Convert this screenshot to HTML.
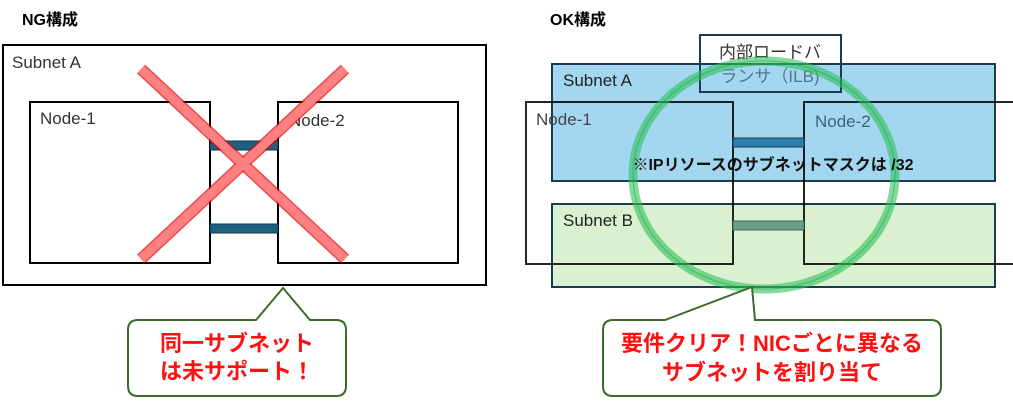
<!DOCTYPE html>
<html><head><meta charset="utf-8"><style>
html,body{margin:0;padding:0;background:#fff;}
svg{display:block;}
text{font-family:"Liberation Sans","Noto Sans CJK JP",sans-serif;}
</style></head><body>
<svg width="1013" height="401" viewBox="0 0 1013 401" xmlns="http://www.w3.org/2000/svg">
<text x="22" y="25" font-size="16" font-weight="bold" fill="#000">NG構成</text>
<text x="550" y="25" font-size="16" font-weight="bold" fill="#000">OK構成</text>

<!-- Left -->
<rect x="3" y="45" width="483" height="240" fill="#fff" stroke="#000" stroke-width="2"/>
<text x="12" y="68" font-size="17" fill="#333">Subnet A</text>
<rect x="30" y="102" width="180" height="161" fill="#fff" stroke="#000" stroke-width="2"/>
<text x="40" y="124" font-size="17" fill="#333">Node-1</text>
<rect x="278" y="102" width="180" height="161" fill="#fff" stroke="#000" stroke-width="2"/>
<text x="289" y="126" font-size="17" fill="#333">Node-2</text>
<rect x="210" y="141" width="68" height="9" fill="#1f5f82" stroke="#0d3548" stroke-width="1"/>
<rect x="210" y="224" width="68" height="9" fill="#1f5f82" stroke="#0d3548" stroke-width="1"/>
<g stroke-linecap="butt">
<line x1="141" y1="69" x2="345" y2="259" stroke="#e00000" stroke-opacity="0.7" stroke-width="12"/>
<line x1="345" y1="69" x2="141" y2="259" stroke="#e00000" stroke-opacity="0.7" stroke-width="12"/>
<line x1="141" y1="69" x2="345" y2="259" stroke="#ff8080" stroke-width="9"/>
<line x1="345" y1="69" x2="141" y2="259" stroke="#ff8080" stroke-width="9"/>
</g>
<path d="M138,320 L256,320 L283,288 L310,320 L336,320 Q346,320 346,330 L346,386 Q346,396 336,396 L138,396 Q128,396 128,386 L128,330 Q128,320 138,320 Z" fill="#fff" stroke="#3a6b2a" stroke-width="2"/>
<text x="237" y="351" font-size="22" font-weight="bold" fill="#ff1010" text-anchor="middle">同一サブネット</text>
<text x="237" y="379" font-size="22" font-weight="bold" fill="#ff1010" text-anchor="middle">は未サポート！</text>

<!-- Right -->
<rect x="552" y="64" width="443" height="117" fill="#a3d6ef" stroke="#1d3b4f" stroke-width="2"/>
<text x="563" y="86" font-size="17" fill="#222">Subnet A</text>
<rect x="552" y="204" width="443" height="83" fill="#d9f1d0" stroke="#1d3b4f" stroke-width="2"/>
<text x="563" y="226" font-size="17" fill="#222">Subnet B</text>
<rect x="526" y="102" width="207" height="162" fill="none" stroke="#000" stroke-width="2" stroke-opacity="0.85"/>
<path d="M1013,102 L804,102 L804,264 L1013,264" fill="none" stroke="#000" stroke-width="2" stroke-opacity="0.85"/>
<text x="536" y="125" font-size="17" fill="#444">Node-1</text>
<text x="815" y="127" font-size="17" fill="#3a6478">Node-2</text>
<rect x="733" y="138" width="71" height="9" fill="#2a7fae" stroke="#1d3b4f" stroke-width="1"/>
<rect x="733" y="221" width="71" height="9" fill="#6aa08a" stroke="#3c6b5a" stroke-width="1"/>
<rect x="700" y="35" width="141" height="57" fill="none" stroke="#1d3b4f" stroke-width="2"/>
<text x="770" y="58" font-size="17" fill="#333" text-anchor="middle">内部ロードバ</text>
<text x="770" y="82" font-size="17" fill="#4f7a90" text-anchor="middle">ランサ（ILB)</text>
<ellipse cx="764" cy="175" rx="131" ry="114" fill="none" stroke="#2ec25a" stroke-opacity="0.6" stroke-width="9"/>
<ellipse cx="764" cy="175" rx="131" ry="114" fill="none" stroke="#18a040" stroke-opacity="0.5" stroke-width="1"/>
<text x="773" y="170" font-size="16" font-weight="bold" fill="#111" text-anchor="middle">※IPリソースのサブネットマスクは /32</text>
<path d="M613,320 L665,320 L752,287 L755,320 L931,320 Q941,320 941,330 L941,386 Q941,396 931,396 L613,396 Q603,396 603,386 L603,330 Q603,320 613,320 Z" fill="#fff" stroke="#3a6b2a" stroke-width="2"/>
<text x="772" y="351" font-size="22" font-weight="bold" fill="#ff1010" text-anchor="middle">要件クリア！NICごとに異なる</text>
<text x="772" y="380" font-size="22" font-weight="bold" fill="#ff1010" text-anchor="middle">サブネットを割り当て</text>
</svg>
</body></html>
